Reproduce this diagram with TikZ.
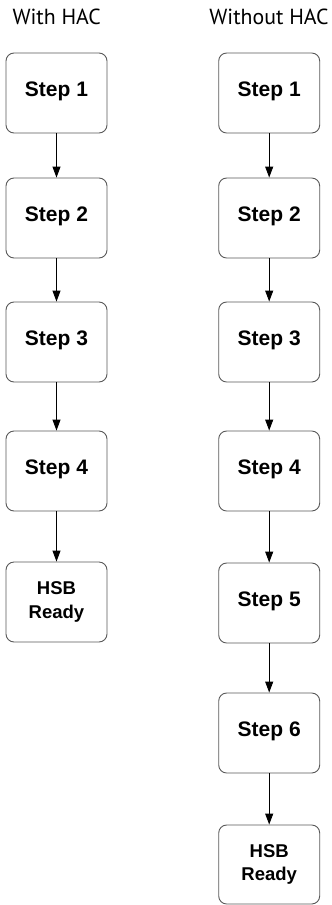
\documentclass[tikz,border=0pt]{standalone}
\usepackage{fontspec}
\setmainfont{Liberation Sans}
\newfontfamily\titlefont{PT Sans}
\usetikzlibrary{arrows.meta}
\begin{document}
\begin{tikzpicture}[x=1pt,y=-1pt,
  stepbox/.style={draw=black!65, line width=0.9pt, rounded corners=8pt,
    minimum width=101pt, minimum height=80pt, inner sep=0pt,
    font=\fontsize{21}{25}\selectfont\bfseries,
    text height=15pt, text depth=7.5pt},
  readybox/.style={draw=black!65, line width=0.9pt, rounded corners=8pt,
    minimum width=101pt, minimum height=80pt, inner sep=0pt, align=center,
    font=\fontsize{18.5}{23.3}\selectfont\bfseries},
  title/.style={anchor=base, font=\titlefont\fontsize{21.8}{26}\selectfont},
  flow/.style={-{Triangle[length=11pt,width=8pt]}, line width=0.9pt, black}]
\useasboundingbox (0,0) rectangle (332,905);

% column titles
\node[title] (tl) at (56.7,24) {With HAC};
\node[title] (tr) at (269,24) {Without HAC};

% left column: with HAC
\node[stepbox] (l1) at (56.5,93) {Step 1};
\node[stepbox] (l2) at (56.5,218) {Step 2};
\node[stepbox] (l3) at (56.5,342) {Step 3};
\node[stepbox] (l4) at (56.5,471) {Step 4};
\node[readybox] (l5) at (56.5,602) {HSB\\Ready};

% right column: without HAC
\node[stepbox] (r1) at (269.2,93) {Step 1};
\node[stepbox] (r2) at (269.2,218) {Step 2};
\node[stepbox] (r3) at (269.2,342) {Step 3};
\node[stepbox] (r4) at (269.2,471) {Step 4};
\node[stepbox] (r5) at (269.2,603) {Step 5};
\node[stepbox] (r6) at (269.2,733) {Step 6};
\node[readybox, minimum height=79pt] (r7) at (269.2,864.5) {HSB\\Ready};

% connectors
\foreach \a/\b in {l1/l2,l2/l3,l3/l4,l4/l5,r1/r2,r2/r3,r3/r4,r4/r5,r5/r6,r6/r7}
  \draw[flow] (\a.south) -- (\b.north);
\end{tikzpicture}
\end{document}
